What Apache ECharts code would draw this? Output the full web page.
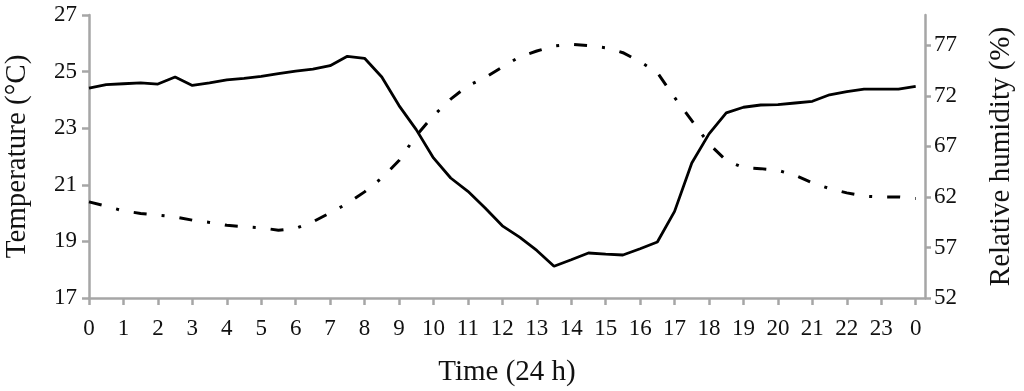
<!DOCTYPE html>
<html>
<head>
<meta charset="utf-8">
<script src="https://cdn.jsdelivr.net/npm/echarts@6/dist/echarts.min.js"></script>
<style>
html,body{margin:0;padding:0;background:#fff;}
#chart{width:1024px;height:391px;}
</style>
</head>
<body>
<div id="chart"></div>
<script>
// Time of day (hours)
var hours = [0,0.5,1,1.5,2,2.5,3,3.5,4,4.5,5,5.5,6,6.5,7,7.5,8,8.5,9,9.5,10,10.5,11,11.5,12,12.5,13,13.5,14,14.5,15,15.5,16,16.5,17,17.5,18,18.5,19,19.5,20,20.5,21,21.5,22,22.5,23,23.5,24];
// Temperature (°C)
var temperature = [24.42,24.54,24.57,24.6,24.56,24.81,24.51,24.6,24.71,24.76,24.83,24.93,25.02,25.09,25.21,25.54,25.47,24.81,23.8,22.95,21.95,21.24,20.77,20.18,19.55,19.15,18.68,18.12,18.35,18.59,18.55,18.52,18.74,18.98,20.06,21.77,22.8,23.54,23.74,23.82,23.83,23.89,23.95,24.18,24.29,24.38,24.38,24.38,24.48];
// Relative humidity (%)
var humidity = [61.51,61.08,60.62,60.37,60.2,60.03,59.7,59.48,59.2,59.05,58.95,58.7,58.89,59.54,60.43,61.35,62.5,63.87,65.6,68.07,70.04,71.68,73.0,73.81,74.86,75.85,76.44,76.93,77.1,76.96,76.76,76.27,75.38,74.3,71.84,69.55,67.26,65.6,64.9,64.8,64.63,64.14,63.38,62.83,62.4,62.07,62.0,62.0,61.84];
// Tick values and labels
var xTicks = [0,1,2,3,4,5,6,7,8,9,10,11,12,13,14,15,16,17,18,19,20,21,22,23,24];
var xTickLabels = ['0','1','2','3','4','5','6','7','8','9','10','11','12','13','14','15','16','17','18','19','20','21','22','23','0'];
var rhTicks = [52,57,62,67,72,77];

var FONT = "'Liberation Serif','Times New Roman',serif";
var AXIS_COLOR = '#a6a6a6';

function pairs(xs, ys){ var out=[]; for (var i=0;i<xs.length;i++) out.push([xs[i], ys[i]]); return out; }

var chart = echarts.init(document.getElementById('chart'), null, {renderer:'canvas'});
chart.setOption({
  animation:false,
  backgroundColor:'#ffffff',
  grid:{left:89, right:99, top:15, bottom:93, containLabel:false, outerBoundsMode:'none'},
  xAxis:{
    type:'value', min:0, max:24.27,
    name:'Time (24 h)', nameLocation:'middle', nameGap:60,
    nameTextStyle:{fontFamily:FONT, fontSize:29, color:'#111'},
    axisLine:{show:true, onZero:false, lineStyle:{color:AXIS_COLOR, width:2.5}},
    axisTick:{show:true, length:7, customValues:xTicks, lineStyle:{color:AXIS_COLOR, width:2.5}},
    axisLabel:{customValues:xTicks, margin:19, fontFamily:FONT, fontSize:23, color:'#111',
      formatter:function(v){ var i = xTicks.indexOf(v); return i>=0 ? xTickLabels[i] : ''; }},
    splitLine:{show:false}
  },
  yAxis:[{
    type:'value', min:17, max:27, interval:2, position:'left',
    name:'Temperature (°C)', nameLocation:'middle', nameGap:57,
    nameTextStyle:{fontFamily:FONT, fontSize:29, color:'#111'},
    axisLine:{show:true, lineStyle:{color:AXIS_COLOR, width:2.5}},
    axisTick:{show:true, length:7, lineStyle:{color:AXIS_COLOR, width:2.5}},
    axisLabel:{margin:12, fontFamily:FONT, fontSize:23, color:'#111'},
    splitLine:{show:false}
  },{
    type:'value', min:52, max:80, position:'right',
    name:'Relative humidity (%)', nameLocation:'middle', nameGap:62,
    nameTextStyle:{fontFamily:FONT, fontSize:29, color:'#111'},
    axisLine:{show:true, lineStyle:{color:AXIS_COLOR, width:2.5}},
    axisTick:{show:true, length:6, customValues:rhTicks, lineStyle:{color:AXIS_COLOR, width:2.5}},
    axisLabel:{customValues:rhTicks, margin:9, fontFamily:FONT, fontSize:23, color:'#111'},
    splitLine:{show:false}
  }],
  series:[{
    name:'Temperature', type:'line', yAxisIndex:0, data:pairs(hours, temperature),
    showSymbol:false, symbol:'none', smooth:false,
    lineStyle:{color:'#000', width:2.8, type:'solid'}
  },{
    name:'Relative humidity', type:'line', yAxisIndex:1, data:pairs(hours, humidity),
    showSymbol:false, symbol:'none', smooth:false,
    lineStyle:{color:'#000', width:3, type:[13,15,3,15], cap:'butt'}
  }]
});
</script>
</body>
</html>
